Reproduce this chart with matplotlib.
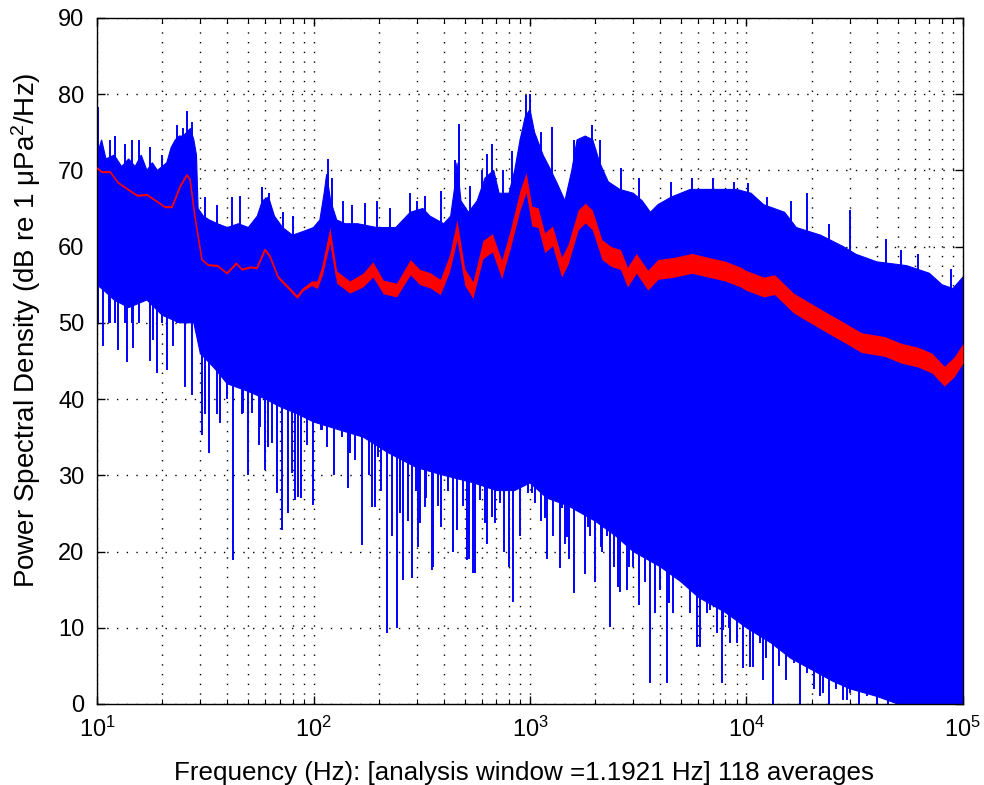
import numpy as np
import matplotlib
matplotlib.use("Agg")
import matplotlib.pyplot as plt

plt.rcParams['font.family'] = ['Liberation Sans', 'DejaVu Sans']
plt.rcParams['mathtext.fontset'] = 'custom'
plt.rcParams['mathtext.rm'] = 'Liberation Sans'
plt.rcParams['mathtext.it'] = 'Liberation Sans:italic'

# upper edge of the blue (single-snapshot) spectrum, Hz / dB
hi_f = [10, 10.5, 11, 12, 13, 14, 15, 16, 17, 18, 19, 20, 21, 22, 23, 24, 25, 26, 27, 28,
        28.8, 29.3, 31, 33, 36, 40, 45, 50, 55, 58, 62, 66, 72, 80, 90, 100, 107, 112, 115,
        120, 128, 140, 160, 196, 240, 280, 320, 345, 400, 430, 450, 460, 480, 520, 570, 620,
        680, 720, 800, 850, 900, 950, 1000, 1050, 1150, 1250, 1350, 1450, 1560, 1650, 1800,
        1950, 2100, 2300, 2600, 3000, 3300, 3600, 3900, 4500, 5500, 7000, 9000, 10500, 12000,
        15000, 17000, 22000, 28000, 32000, 40000, 55000, 70000, 80000, 90000, 100000]
hi_db = [72, 74, 71.5, 72, 70.5, 71.5, 70.5, 72, 70, 71, 70, 70.5, 71, 73, 74, 74.5, 74.5, 75, 75.5, 74,
         72, 65, 64, 63.5, 63, 62.5, 63, 62.5, 64, 66, 66.5, 64, 62.5, 61.5, 62, 62.5, 63.5, 67, 69.5,
         66, 63.5, 63, 63, 62.5, 62.5, 64.5, 65, 64, 63, 64, 68, 71, 66, 64.5, 66, 69,
         70, 67, 67, 70, 74, 77, 78, 75, 72, 70, 68, 66, 70, 74, 74.5,
         74, 71, 68.5, 67.5, 67, 66, 64.5, 65.5, 66.5, 67.5, 67.5, 67.5, 67, 65.5,
         64.5, 62.5, 61.5, 60, 59, 58, 57.5, 56.5, 55, 54.5, 56]

# lower edge of the dense blue band
lo_f = [10, 11, 12, 14, 17, 20, 24, 28, 30, 35, 40, 50, 60, 70, 85, 100, 130, 170, 220, 300,
        400, 550, 700, 850, 1000, 1200, 1500, 2000, 2500, 3000, 4000, 5000, 6000, 8000, 10000,
        13000, 16000, 20000, 25000, 30000, 40000, 50000, 100000]
lo_db = [55, 54, 53, 52, 53, 51, 50, 50, 46, 44, 42, 41, 40, 39, 38, 37, 36, 35, 33, 31,
         30, 29, 28, 28, 29, 27, 26, 24, 22, 20, 18, 16, 14, 12, 10,
         8, 6, 4.5, 3, 2, 1, 0, 0]

# deep downward spikes below the band: frequency, lowest value
dn_f = [10.1, 10.6, 11.3, 12.5, 13.8, 14.7, 16.7, 17.5, 18.2, 19, 21, 22.5, 25.5, 27.5, 30.5,
        31.5, 33, 36, 37, 40, 42.5, 44.7, 46.7, 47, 50, 52, 56, 56.5, 60, 61.5, 64.4, 67.8, 68,
        71.3, 76, 79.5, 82, 84.5, 88, 93, 99, 108, 110, 116, 125, 135, 144, 147, 155, 167, 180,
        186, 192, 198, 205, 218, 230, 243, 250, 259, 272, 284, 297, 303, 310, 327, 330, 354,
        357, 375, 390, 420, 440, 460, 490, 510, 520, 545, 557, 590, 620, 630, 665, 688, 720,
        728, 760, 800, 838, 900, 980, 1020, 1055, 1130, 1170, 1200, 1280, 1370, 1410, 1450,
        1490, 1520, 1590, 1700, 1800, 1850, 1900, 2000, 2130, 2150, 2270, 2340, 2450, 2560,
        2600, 2800, 2880, 3000, 3180, 3200, 3400, 3580, 3800, 3980, 4000, 4280, 4400, 4600,
        5100, 5500, 5900, 6100, 6600, 6800, 7300, 7700, 7800, 8300, 8400, 9000, 9600, 10400,
        10700, 11500, 11900, 12300, 13200, 13700, 14200, 15300, 16500, 17700, 19000, 20500,
        21800, 22500, 24000, 26000, 28000, 29000, 30000, 33000, 36000, 40000, 45000]
dn_db = [54, 47, 50, 46.5, 44.8, 46.7, 54, 45, 47.8, 43.4, 43.8, 47, 41.6, 40.5, 35.3,
         38, 32.9, 38, 36.9, 40, 18.9, 43.4, 38, 38.2, 30, 38.2, 34, 36.3, 30.7, 33.7, 34.2, 27.7, 36,
         22.8, 25, 30.3, 26.8, 27.2, 27, 34, 26.1, 36, 36, 33.7, 30, 35, 28.3, 32.9, 32, 20.9, 30,
         25.9, 25.9, 32.4, 28, 9.3, 22, 10, 25, 16.3, 24, 16.5, 28, 20.6, 23.7, 25.9, 27, 17.6,
         18, 26, 23.2, 28, 20, 22.8, 26, 18.9, 19, 17.2, 17.2, 26.8, 23.7, 21, 24.5, 23.7, 28,
         26.4, 20, 18, 13.4, 22, 27.7, 27.7, 26.4, 24, 24.4, 19, 22, 17.8, 25.7, 21,
         21.9, 19, 14.6, 25.9, 17, 23.2, 22, 16, 20.6, 20, 22, 10.1, 18, 15.4,
         14.7, 15, 18, 18, 15.9, 13, 16, 2.8, 12, 17.2, 15, 2.8, 13.3, 12,
         15.9, 12, 7.5, 7.5, 12, 12.3, 9.3, 2.8, 9.7, 10, 8, 8, 4.7, 4.9,
         4.9, 8, 3.2, 6, 0, 8.8, 5, 3.2, 5.4, 0, 4, 2,
         1, 1.4, 0, 2, 0.5, 0.5, 1.4, 0, 1, 0, 0]

# upward spikes above the band: frequency, highest value
up_f = [10.1, 11.5, 12.1, 13.5, 14.5, 15.6, 17.5, 20, 23.4, 25, 26, 27.5, 31.5, 36, 42, 46,
        58, 62, 72, 80, 117, 122, 137, 150, 173, 196, 225, 280, 300, 326, 390, 450, 470, 530,
        600, 630, 670, 750, 830, 960, 1000, 1130, 1270, 1600, 1940, 2100, 2620, 3200, 4500,
        5600, 7000, 8800, 10200, 12500, 16000, 19000, 24000, 30000, 44000, 52000, 62000, 88000]
up_db = [78.3, 74, 74.5, 73.5, 74, 74, 73, 72, 76, 75.5, 77.8, 76.4, 66.5, 65.5, 66.5, 66.6,
         67.8, 67, 64.5, 64, 71.5, 69, 66, 65.5, 65.7, 66, 65, 67, 66, 66.7, 67.3, 71.4, 76.1, 68,
         70, 72.2, 73.5, 70, 72.5, 79.9, 80, 75, 75.7, 74, 76, 74, 70.3, 69, 68.5,
         69, 69, 68.5, 68.4, 66.5, 66, 67, 63, 64.8, 61, 59.5, 59, 57]

# red averaged spectrum: centre and half spread
red_f = [10, 10.5, 11.5, 12.5, 13.9, 15.3, 17, 18.5, 20.6, 22.2, 24.2, 26, 26.9, 28.3, 30.5,
         32.5, 36, 39.8, 44, 46.7, 50.9, 54.8, 59.6, 62.9, 68.6, 76, 84, 89.5, 98, 104, 110,
         119, 128, 147, 169, 188, 210, 242, 280, 310, 345, 385, 425, 460, 500, 545, 606, 670,
         740, 810, 900, 960, 1020, 1090, 1170, 1270, 1400, 1500, 1670, 1800, 1940, 2150, 2370,
         2620, 2820, 3100, 3500, 3900, 4650, 5600, 6640, 7950, 9400, 9900, 12000, 13500, 16500,
         19700, 23600, 28400, 34000, 43500, 52000, 62000, 72000, 82000, 91000, 100000]
red_db = [70.3, 69.8, 69.8, 68.4, 67.5, 66.7, 66.8, 66.1, 65.2, 65.2, 67.9, 69.4, 68.8, 64, 58.3,
          57.6, 57.5, 56.5, 57.8, 57, 57.3, 57.2, 59.6, 58.7, 56, 54.7, 53.4, 54.4, 55.2, 55, 57,
          61.5, 56, 54.7, 55.6, 57, 54.7, 54.3, 57.3, 56, 55.6, 54.7, 57.8, 62.2, 56, 54.3, 59.6, 60.5,
          57, 60.9, 66.1, 68.4, 64, 63.8, 60.5, 61.4, 57.3, 59, 63.5, 64.4, 63.5, 59.6, 58.7,
          58.3, 56, 57.8, 55.6, 57, 57.3, 57.8, 57.3, 56.8, 56, 55.6, 54.7, 55, 52.6,
          51.3, 50, 48.7, 47.4, 46.9, 46, 45.5, 44.7, 43, 44.2, 46]
red_sd = [0.1, 0.1, 0.1, 0.1, 0.1, 0.1, 0.1, 0.1, 0.1, 0.1, 0.1, 0.1, 0.1, 0.1, 0.1,
          0.1, 0.1, 0.1, 0.1, 0.1, 0.1, 0.1, 0.2, 0.2, 0.2, 0.2, 0.2, 0.2, 0.3, 0.5, 0.7,
          1.0, 0.8, 0.8, 0.9, 1.0, 0.9, 0.9, 1.0, 1.0, 1.0, 1.0, 1.1, 1.3, 1.1, 1.1, 1.2, 1.2,
          1.2, 1.2, 1.3, 1.3, 1.3, 1.3, 1.3, 1.3, 1.3, 1.3, 1.3, 1.3, 1.3, 1.3, 1.3,
          1.3, 1.3, 1.3, 1.3, 1.3, 1.3, 1.3, 1.3, 1.3, 1.3, 1.3, 1.3, 1.3, 1.3,
          1.3, 1.3, 1.3, 1.3, 1.3, 1.3, 1.3, 1.3, 1.3, 1.3, 1.3]

fig = plt.figure(figsize=(9.84, 7.85), dpi=100)
ax = fig.add_axes([0.0986, 0.1032, 0.88, 0.874])

blue = '#0000ff'
red = '#ff0000'
# band as one polygon: upper edge forwards, lower edge back
poly_f = np.concatenate([hi_f, lo_f[::-1]])
poly_db = np.concatenate([hi_db, lo_db[::-1]])
ax.fill(poly_f, poly_db, color=blue, lw=0.8, zorder=2)
ax.vlines(dn_f, dn_db, 55, color=blue, lw=1.4, zorder=2)
ax.vlines(up_f, 50, up_db, color=blue, lw=1.4, zorder=2)

rf = np.array(red_f)
rd = np.array(red_db)
rs = np.array(red_sd)
ax.fill_between(rf, rd - rs, rd + rs, color=red, lw=0, zorder=3)
ax.plot(rf, rd, color=red, lw=1.1, zorder=3)

ax.set_xscale('log')
ax.set_xlim(10, 1e5)
ax.set_ylim(0, 90)
ax.set_yticks(np.arange(0, 91, 10))
dots = (0, (1, 6))
ax.grid(True, which='major', axis='both', color='black', linestyle=dots, lw=1.0)
ax.grid(True, which='minor', axis='x', color='black', linestyle=dots, lw=1.0)
ax.set_axisbelow(True)
ax.tick_params(which='both', direction='in', top=True, right=True, labelsize=17)
ax.tick_params(which='major', length=6, width=1)
ax.tick_params(axis='x', which='major', pad=9)
ax.tick_params(axis='y', which='major', pad=9)
ax.tick_params(which='minor', length=3.5, width=0.8)
for s in ax.spines.values():
    s.set_linewidth(1.0)

ax.set_xlabel('Frequency (Hz): [analysis window =1.1921 Hz] 118 averages', fontsize=18.7)
ax.set_ylabel('Power Spectral Density (dB re 1 μPa$^2$/Hz)', fontsize=20)
ax.xaxis.set_label_coords(0.493, -0.083)
ax.yaxis.set_label_coords(-0.062, 0.545)

fig.savefig('out.png', dpi=100)
